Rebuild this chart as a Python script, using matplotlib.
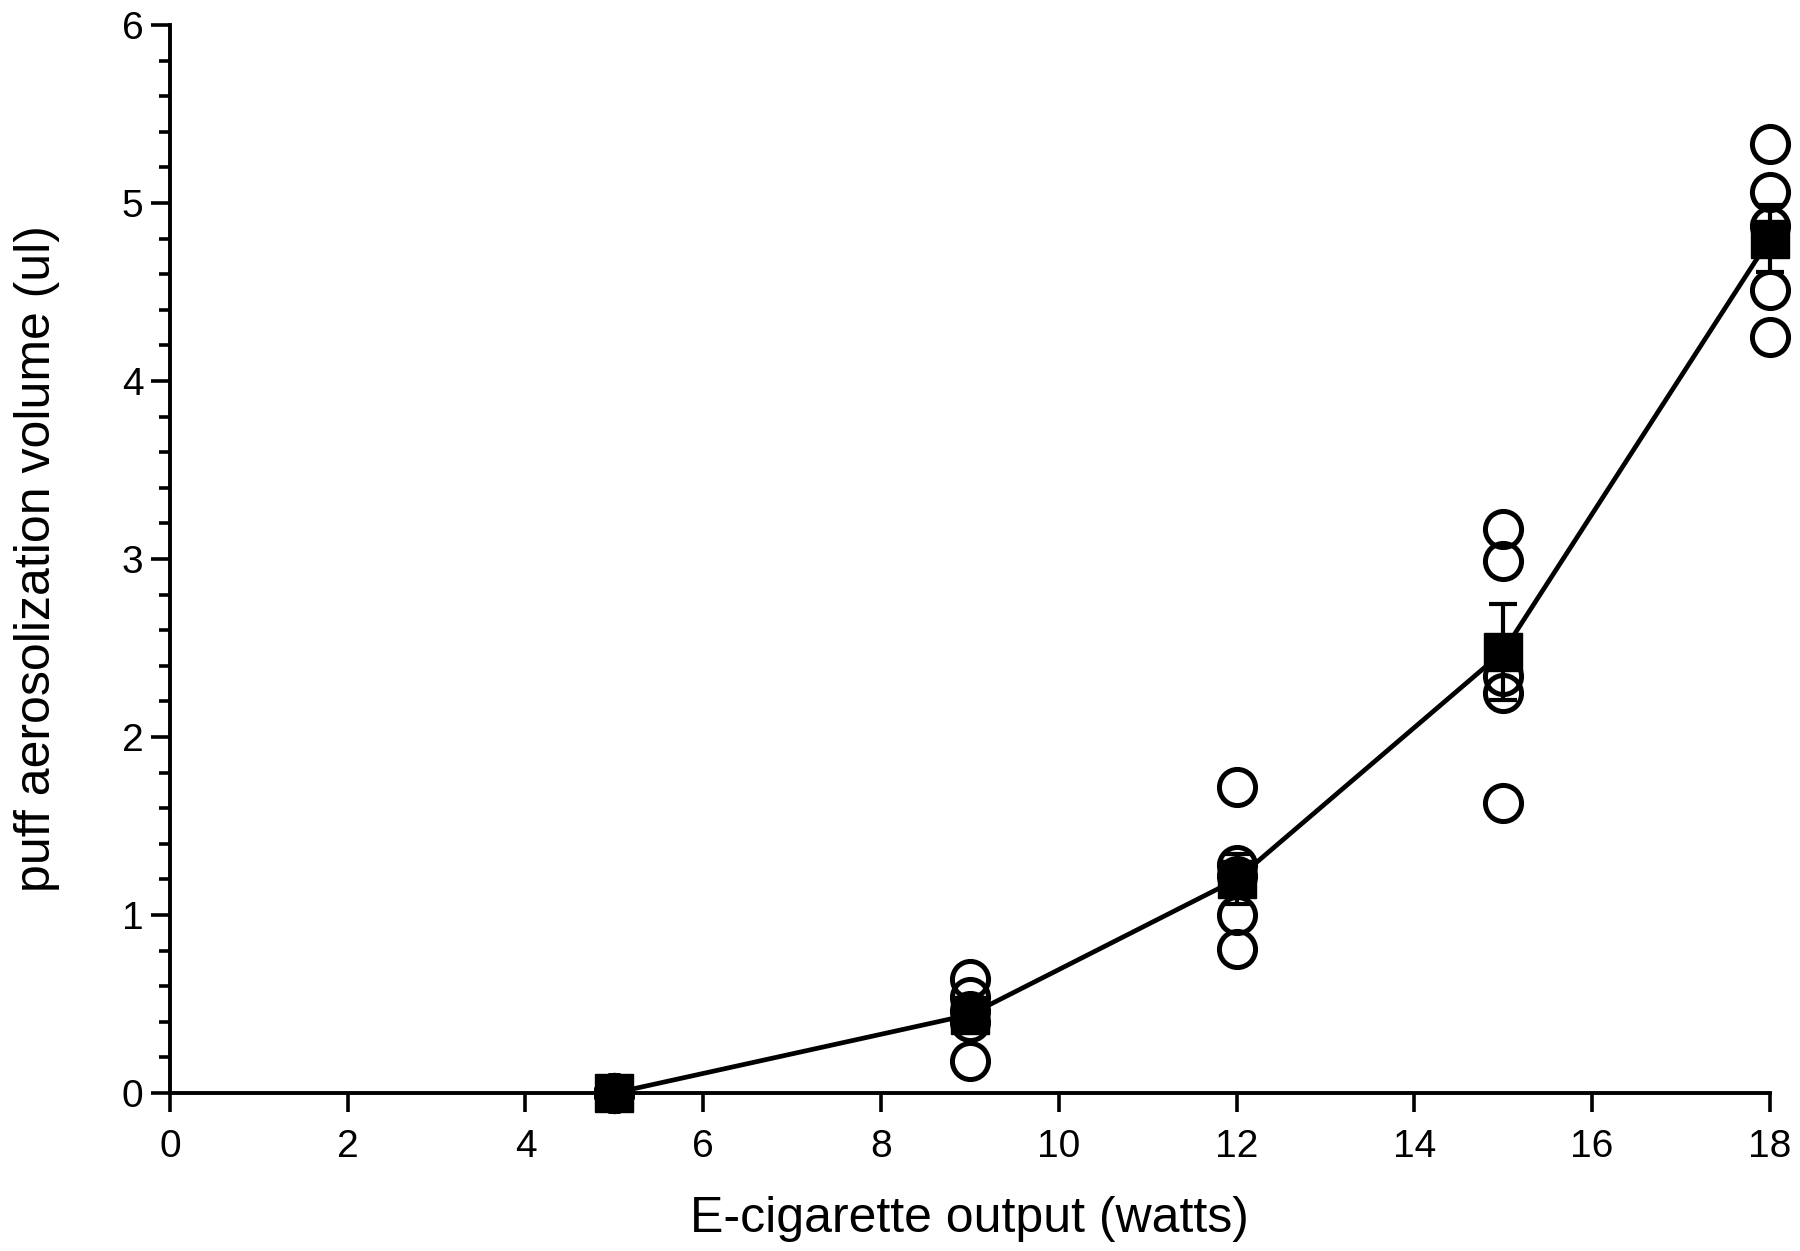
import matplotlib
matplotlib.use("Agg")
import matplotlib.pyplot as plt
from matplotlib.ticker import MultipleLocator

plt.rcParams['font.family'] = ['Liberation Sans', 'DejaVu Sans']

watts = [5, 9, 12, 15, 18]
individual = [
    [0.0, 0.0, 0.0, 0.0, 0.0],
    [0.64, 0.54, 0.46, 0.40, 0.18],
    [1.72, 1.28, 1.22, 1.00, 0.81],
    [3.17, 2.99, 2.34, 2.25, 1.63],
    [5.33, 5.06, 4.87, 4.51, 4.25],
]
means = [0.0, 0.44, 1.20, 2.48, 4.80]
sems = [0.0, 0.08, 0.14, 0.27, 0.19]

x_ticks = [0, 2, 4, 6, 8, 10, 12, 14, 16, 18]
y_ticks = [0, 1, 2, 3, 4, 5, 6]

fig = plt.figure(figsize=(18, 12.51), dpi=100)
ax = fig.add_axes([0.0944, 0.1263, 0.8889, 0.8537])

for w, vals in zip(watts, individual):
    ax.plot([w] * len(vals), vals, linestyle='none', marker='o', markersize=26,
            markerfacecolor='none', markeredgecolor='black', markeredgewidth=3.6,
            clip_on=False, zorder=3)

ax.errorbar(watts, means, yerr=sems, fmt='none', ecolor='black', elinewidth=3,
            capsize=10, capthick=3, zorder=4, clip_on=False)
ax.plot(watts, means, color='black', linewidth=3.4, marker='s', markersize=27,
        markerfacecolor='black', markeredgecolor='black', clip_on=False, zorder=5)

ax.set_xlim(0, 18)
ax.set_ylim(0, 6)
ax.set_xticks(x_ticks)
ax.set_yticks(y_ticks)
ax.yaxis.set_minor_locator(MultipleLocator(0.2))

for s in ['top', 'right']:
    ax.spines[s].set_visible(False)
for s in ['left', 'bottom']:
    ax.spines[s].set_linewidth(2.8)

ax.tick_params(axis='x', which='major', direction='out', length=14, width=2.6, labelsize=28, pad=12)
ax.tick_params(axis='y', which='major', direction='out', length=14, width=2.6, labelsize=28, pad=5)
ax.tick_params(axis='y', which='minor', direction='out', length=8, width=2.6)

ax.set_xlabel('E-cigarette output (watts)', fontsize=36, labelpad=22)
ax.set_ylabel('puff aerosolization volume (ul)', fontsize=36)
ax.yaxis.set_label_coords(-0.069, 0.5)

fig.savefig('out.png', dpi=100)
